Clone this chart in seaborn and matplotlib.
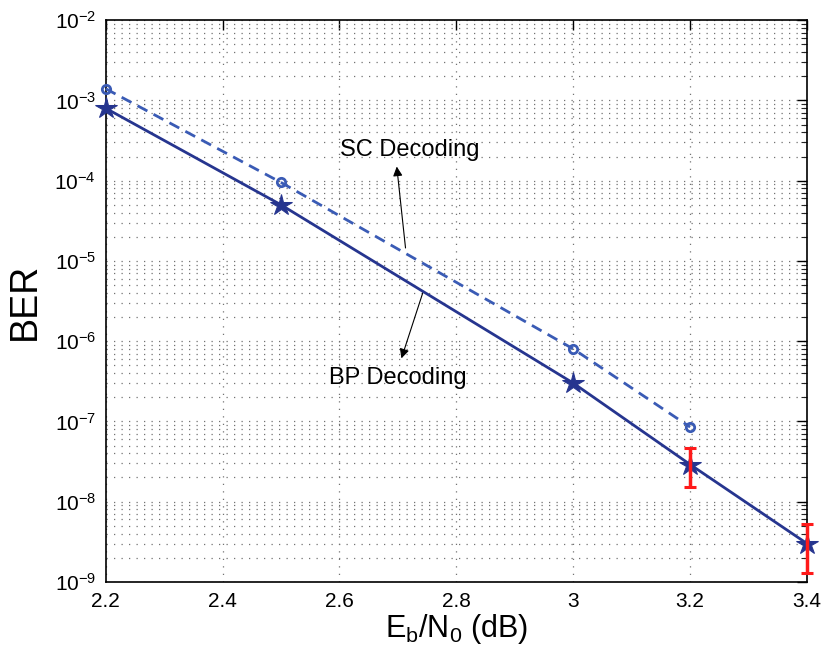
import numpy as np
import pandas as pd
import matplotlib
matplotlib.use("Agg")
import matplotlib.pyplot as plt
import seaborn as sns
from matplotlib.ticker import NullFormatter, FixedLocator, LogFormatterSciNotation

# data
snr_sc = [2.2, 2.5, 3.0, 3.2]
ber_sc = [1.4e-3, 9.5e-5, 8.0e-7, 8.5e-8]
snr_bp = [2.2, 2.5, 3.0, 3.2, 3.4]
ber_bp = [8.0e-4, 5.0e-5, 3.0e-7, 2.9e-8, 3.0e-9]
err_x = [3.2, 3.4]
err_center = [2.9e-8, 3.0e-9]
err_low = [1.5e-8, 1.3e-9]
err_high = [4.6e-8, 5.3e-9]
xticks = [2.2, 2.4, 2.6, 2.8, 3.0, 3.2, 3.4]
xticklabels = ["2.2", "2.4", "2.6", "2.8", "3", "3.2", "3.4"]
ydecades = [-9, -8, -7, -6, -5, -4, -3, -2]

sns.set_theme(style="white")
plt.rcParams['font.family'] = ['Liberation Sans', 'DejaVu Sans']
plt.rcParams['mathtext.fontset'] = 'custom'
plt.rcParams['mathtext.rm'] = 'Liberation Sans'
plt.rcParams['mathtext.it'] = 'Liberation Sans'
plt.rcParams['text.color'] = 'black'
plt.rcParams['axes.labelcolor'] = 'black'

fig = plt.figure(figsize=(8.26, 6.53), dpi=100)
ax = fig.add_axes([0.128, 0.109, 0.849, 0.860])

df_sc = pd.DataFrame({"x": snr_sc, "y": ber_sc})
df_bp = pd.DataFrame({"x": snr_bp, "y": ber_bp})

sns.lineplot(data=df_sc, x="x", y="y", ax=ax, color="#3a5bb5", lw=2.0,
             linestyle=(0, (4, 2.5)), marker="o", markersize=6,
             markerfacecolor="none", markeredgecolor="#3a5bb5",
             markeredgewidth=2.0, clip_on=False, zorder=3)
sns.lineplot(data=df_bp, x="x", y="y", ax=ax, color="#26358f", lw=2.0,
             marker="*", markersize=16, markeredgecolor="#26358f",
             markerfacecolor="#26358f", clip_on=False, zorder=4)

yerr = [np.array(err_center) - np.array(err_low), np.array(err_high) - np.array(err_center)]
ax.errorbar(err_x, err_center, yerr=yerr, fmt="none", ecolor="#ff1a1a",
            elinewidth=2.5, capsize=4, capthick=2.2, clip_on=False, zorder=5)

ax.set_yscale("log")
ax.set_xlim(2.2, 3.4)
ax.set_ylim(1e-9, 1e-2)
ax.xaxis.set_major_locator(FixedLocator(xticks))
ax.set_xticklabels(xticklabels)
major_y = [10.0 ** d for d in ydecades]
minor_y = [m * 10.0 ** d for d in ydecades[:-1] for m in range(2, 10)]
ax.yaxis.set_major_locator(FixedLocator(major_y))
ax.yaxis.set_major_formatter(LogFormatterSciNotation())
ax.yaxis.set_minor_locator(FixedLocator(minor_y))
ax.yaxis.set_minor_formatter(NullFormatter())

ax.grid(which="major", axis="both", linestyle=(0, (1, 5)), color="0.45", linewidth=0.9)
ax.grid(which="minor", axis="y", linestyle=(0, (1, 5)), color="0.45", linewidth=0.9)

ax.tick_params(which="major", direction="in", length=7, width=1.0, top=True, right=True,
               labelsize=15, colors="black", pad=7)
ax.tick_params(which="minor", direction="in", length=4, width=0.8, top=False, right=True)
for s in ax.spines.values():
    s.set_color("black")
    s.set_linewidth(1.2)

ax.set_xlabel(r"E$_\mathregular{b}$/N$_\mathregular{0}$ (dB)", fontsize=22, labelpad=1)
ax.set_ylabel("BER", fontsize=27, labelpad=8)

ax.annotate("SC Decoding", xy=(2.72, 2.4e-4), ha="center", va="center", fontsize=17,
            color="black")
ax.annotate("", xy=(2.698, 1.5e-4), xytext=(2.713, 1.45e-5),
            arrowprops=dict(arrowstyle="-|>", color="black", lw=0.8, mutation_scale=14,
                            shrinkA=0, shrinkB=0))
ax.annotate("BP Decoding", xy=(2.7, 3.5e-7), ha="center", va="center", fontsize=17,
            color="black")
ax.annotate("", xy=(2.706, 6.1e-7), xytext=(2.743, 4.1e-6),
            arrowprops=dict(arrowstyle="-|>", color="black", lw=0.8, mutation_scale=14,
                            shrinkA=0, shrinkB=0))

fig.savefig("out.png", dpi=100)
